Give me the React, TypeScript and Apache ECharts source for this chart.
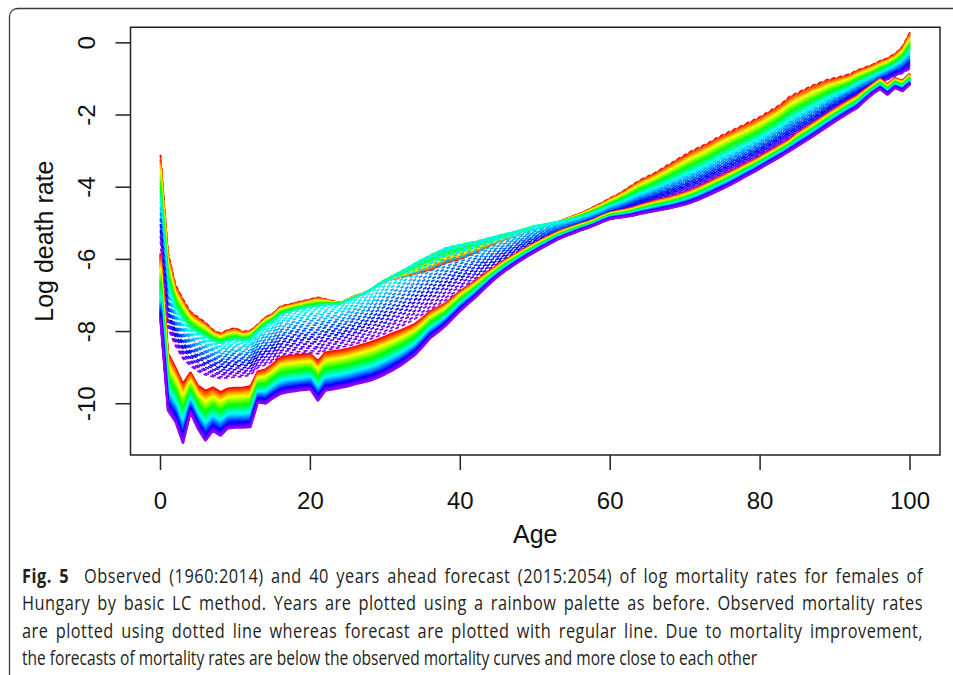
import React, { useEffect, useMemo, useRef } from "react";
import * as echarts from "echarts";

// ---------- data (log death rates) ----------
const ages = Array.from({ length: 101 }, (_, i) => i);
const obsYears = Array.from({ length: 55 }, (_, i) => 1960 + i);
const fcYears = Array.from({ length: 40 }, (_, i) => 2015 + i);

// observed 1960 (top red dashed curve)
const obs1960 = [
  -3.10, -5.80, -6.70, -7.10, -7.45, -7.60, -7.75, -7.95, -8.05, -7.95,
  -7.90, -8.00, -7.97, -7.80, -7.60, -7.50, -7.30, -7.25, -7.20, -7.15,
  -7.10, -7.05, -7.10, -7.15, -7.20, -7.10, -7.00, -6.95, -6.85, -6.70,
  -6.60, -6.55, -6.50, -6.45, -6.40, -6.35, -6.30, -6.20, -6.10, -6.05,
  -6.00, -5.90, -5.82, -5.72, -5.62, -5.52, -5.45, -5.38, -5.30, -5.22,
  -5.15, -5.10, -5.03, -4.96, -4.88, -4.80, -4.72, -4.63, -4.52, -4.42,
  -4.30, -4.20, -4.07, -3.93, -3.80, -3.70, -3.60, -3.47, -3.35, -3.22,
  -3.10, -2.98, -2.88, -2.78, -2.66, -2.55, -2.45, -2.35, -2.25, -2.15,
  -2.05, -1.92, -1.80, -1.66, -1.48, -1.38, -1.28, -1.18, -1.10, -1.02,
  -0.97, -0.92, -0.86, -0.75, -0.68, -0.60, -0.50, -0.42, -0.30, -0.10,
  0.30,
];

// observed 2014 (bottom purple dashed curve)
const obs2014 = [
  -5.50, -7.90, -8.40, -8.75, -8.95, -9.10, -9.20, -9.25, -9.30, -9.28,
  -9.26, -9.25, -9.20, -9.00, -8.92, -8.82, -8.70, -8.65, -8.62, -8.60,
  -8.58, -8.62, -8.52, -8.48, -8.44, -8.40, -8.34, -8.28, -8.21, -8.13,
  -8.05, -7.95, -7.86, -7.76, -7.64, -7.52, -7.38, -7.26, -7.13, -7.01,
  -6.90, -6.80, -6.70, -6.58, -6.45, -6.32, -6.18, -6.05, -5.93, -5.81,
  -5.70, -5.59, -5.48, -5.38, -5.29, -5.20, -5.12, -5.04, -4.96, -4.87,
  -4.78, -4.72, -4.66, -4.59, -4.52, -4.46, -4.39, -4.33, -4.27, -4.21,
  -4.14, -4.06, -3.97, -3.87, -3.77, -3.67, -3.57, -3.47, -3.36, -3.26,
  -3.15, -3.03, -2.91, -2.79, -2.67, -2.54, -2.41, -2.29, -2.15, -2.00,
  -1.86, -1.73, -1.60, -1.48, -1.36, -1.24, -1.12, -1.02, -0.92, -0.84,
  -0.72,
];

// excess of the early-1990s curves above the 1960 -> 2014 trend, by age
const obsHump = [
  0.00, 0.15, 0.20, 0.25, 0.28, 0.30, 0.32, 0.33, 0.34, 0.35,
  0.35, 0.36, 0.37, 0.40, 0.42, 0.44, 0.46, 0.48, 0.50, 0.51,
  0.52, 0.54, 0.55, 0.57, 0.59, 0.61, 0.63, 0.66, 0.69, 0.72,
  0.76, 0.80, 0.84, 0.88, 0.92, 0.95, 0.96, 0.95, 0.93, 0.90,
  0.86, 0.81, 0.76, 0.70, 0.64, 0.58, 0.52, 0.47, 0.43, 0.39,
  0.36, 0.31, 0.26, 0.21, 0.16, 0.12, 0.09, 0.07, 0.05, 0.04,
  0.03, 0.02, 0.01, 0.00, 0.00, 0.00, 0.00, 0.00, 0.00, 0.00,
  0.00, 0.00, 0.00, 0.00, 0.00, 0.00, 0.00, 0.00, 0.00, 0.00,
  0.00, 0.00, 0.00, 0.00, 0.00, 0.00, 0.00, 0.00, 0.00, 0.00,
  0.00, 0.00, 0.00, 0.00, 0.00, 0.00, 0.00, 0.00, 0.00, 0.00,
  0.00,
];

// period index of the observed years (1 = 1960 level, 0 = 2014 level)
const obsLevel = [
  1.00, 0.98, 0.97, 0.95, 0.94, 0.92, 0.91, 0.89, 0.88, 0.86,
  0.85, 0.83, 0.82, 0.80, 0.79, 0.77, 0.76, 0.74, 0.73, 0.71,
  0.70, 0.68, 0.67, 0.65, 0.64, 0.62, 0.61, 0.59, 0.58, 0.56,
  0.55, 0.53, 0.52, 0.50, 0.48, 0.46, 0.44, 0.42, 0.40, 0.37,
  0.35, 0.32, 0.30, 0.27, 0.25, 0.22, 0.20, 0.17, 0.15, 0.12,
  0.10, 0.07, 0.05, 0.02, 0.00,
];
// weight of the early-1990s excess for each observed year
const obsHumpWeight = [
  0.00, 0.03, 0.06, 0.09, 0.12, 0.15, 0.18, 0.21, 0.24, 0.27,
  0.30, 0.33, 0.36, 0.39, 0.42, 0.45, 0.48, 0.51, 0.54, 0.57,
  0.60, 0.63, 0.66, 0.69, 0.72, 0.75, 0.78, 0.81, 0.84, 0.87,
  0.90, 0.94, 0.97, 1.00, 0.98, 0.95, 0.90, 0.85, 0.80, 0.75,
  0.70, 0.65, 0.60, 0.55, 0.50, 0.45, 0.40, 0.35, 0.30, 0.25,
  0.20, 0.15, 0.10, 0.05, 0.00,
];

// forecast 2015 (jump-off, top of the solid band)
const fc2015 = [
  -5.83, -8.60, -9.00, -9.45, -9.13, -9.50, -9.64, -9.55, -9.68, -9.58,
  -9.56, -9.55, -9.52, -9.10, -9.05, -8.90, -8.72, -8.68, -8.66, -8.64,
  -8.62, -8.82, -8.58, -8.55, -8.52, -8.48, -8.42, -8.36, -8.30, -8.22,
  -8.14, -8.05, -7.97, -7.88, -7.78, -7.62, -7.44, -7.33, -7.22, -7.05,
  -6.88, -6.74, -6.60, -6.45, -6.30, -6.16, -6.02, -5.90, -5.78, -5.66,
  -5.55, -5.44, -5.34, -5.24, -5.16, -5.09, -5.02, -4.96, -4.88, -4.78,
  -4.70, -4.66, -4.62, -4.57, -4.50, -4.44, -4.38, -4.33, -4.28, -4.22,
  -4.15, -4.07, -3.98, -3.88, -3.78, -3.68, -3.58, -3.48, -3.37, -3.27,
  -3.16, -3.04, -2.92, -2.80, -2.68, -2.50, -2.37, -2.24, -2.10, -1.96,
  -1.83, -1.70, -1.58, -1.46, -1.30, -1.15, -1.00, -1.15, -0.98, -1.05,
  -0.85,
];
// forecast 2054 (bottom of the solid band)
const fc2054 = [
  -7.70, -10.19, -10.50, -11.10, -10.25, -10.70, -11.03, -10.75, -10.89, -10.68,
  -10.66, -10.66, -10.65, -9.96, -10.00, -9.85, -9.73, -9.68, -9.65, -9.62,
  -9.60, -9.92, -9.64, -9.60, -9.56, -9.52, -9.46, -9.41, -9.36, -9.28,
  -9.18, -9.07, -8.95, -8.80, -8.64, -8.42, -8.18, -8.02, -7.85, -7.64,
  -7.43, -7.24, -7.06, -6.86, -6.66, -6.48, -6.32, -6.18, -6.04, -5.91,
  -5.79, -5.67, -5.56, -5.45, -5.36, -5.28, -5.20, -5.13, -5.05, -4.96,
  -4.88, -4.85, -4.82, -4.79, -4.74, -4.70, -4.66, -4.62, -4.58, -4.53,
  -4.48, -4.41, -4.33, -4.24, -4.14, -4.04, -3.94, -3.83, -3.71, -3.60,
  -3.48, -3.36, -3.24, -3.12, -2.99, -2.86, -2.73, -2.60, -2.46, -2.32,
  -2.18, -2.05, -1.92, -1.80, -1.60, -1.42, -1.28, -1.44, -1.25, -1.34,
  -1.15,
];
// Lee-Carter drift index of the forecast years (0 = 2015, 1 = 2054)
const fcIndex = [
  0.000, 0.026, 0.051, 0.077, 0.103, 0.128, 0.154, 0.179, 0.205, 0.231,
  0.256, 0.282, 0.308, 0.333, 0.359, 0.385, 0.410, 0.436, 0.462, 0.487,
  0.513, 0.538, 0.564, 0.590, 0.615, 0.641, 0.667, 0.692, 0.718, 0.744,
  0.769, 0.795, 0.821, 0.846, 0.872, 0.897, 0.923, 0.949, 0.974, 1.000,
];

const xTicks = [0, 20, 40, 60, 80, 100];
const yTicks = [-10, -8, -6, -4, -2, 0];

const captionLabel = "Fig. 5";
const captionLines = [
  "Observed (1960:2014) and 40 years ahead forecast (2015:2054) of log mortality rates for females of",
  "Hungary by basic LC method. Years are plotted using a rainbow palette as before. Observed mortality rates",
  "are plotted using dotted line whereas forecast are plotted with regular line. Due to mortality improvement,",
  "the forecasts of mortality rates are below the observed mortality curves and more close to each other",
];

// ---------- styling helpers ----------
function hsvHex(h: number): string {
  const h6 = (h % 1) * 6;
  const i = Math.floor(h6);
  const f = h6 - i;
  const q = 1 - f;
  const t = f;
  let r = 0, g = 0, b = 0;
  switch (i) {
    case 0: r = 1; g = t; b = 0; break;
    case 1: r = q; g = 1; b = 0; break;
    case 2: r = 0; g = 1; b = t; break;
    case 3: r = 0; g = q; b = 1; break;
    case 4: r = t; g = 0; b = 1; break;
    default: r = 1; g = 0; b = q; break;
  }
  const c = (v: number) => Math.round(v * 255).toString(16).padStart(2, "0");
  return "#" + c(r) + c(g) + c(b);
}
function rainbow(n: number, end = 0.76): string[] {
  return Array.from({ length: n }, (_, i) => hsvHex((i / (n - 1)) * end));
}

const AXIS_FONT = "'Liberation Sans', Arial, Helvetica, sans-serif";
const CAP_FONT = "'Open Sans', 'Noto Sans', sans-serif";
const CAP_SIZE = 20;
const CAP_LEFT = 22;
const CAP_RIGHT = 923;
const CAP_LAST_RIGHT = 757;
const CAP_TOP = 562;
const CAP_LINE = 27.4;

// plot box = R's padded plotting region
const BOX = { left: 130.5, top: 27.3, width: 809.5, height: 427.7 };
const X_MIN = -4, X_MAX = 104, Y_MIN = -11.42, Y_MAX = 0.43;
const PX_PER_X = BOX.width / (X_MAX - X_MIN);
const PX_PER_Y = BOX.height / (Y_MAX - Y_MIN);
const TICK_LEN = 15;
const INK = "#222";

function measure(text: string, font: string): number {
  const cv = document.createElement("canvas");
  const ctx = cv.getContext("2d");
  if (!ctx) return text.length * 10;
  ctx.font = font;
  return ctx.measureText(text).width;
}

function Caption() {
  const layout = useMemo(() => {
    const norm = `${CAP_SIZE}px ${CAP_FONT}`;
    const bold = `bold ${CAP_SIZE}px ${CAP_FONT}`;
    const naturals = captionLines.map((l, i) =>
      i === 0 ? measure(captionLabel, bold) + measure("  " + l, norm) : measure(l, norm)
    );
    const s4 = (CAP_LAST_RIGHT - CAP_LEFT) / naturals[3];
    const full = CAP_RIGHT - CAP_LEFT;
    return captionLines.map((line, i) => {
      if (i === 3) return { sc: s4, w: naturals[i] + 20, justify: false, ls: 0 };
      const fill = full / naturals[i];
      const sc = Math.min(fill * 0.995, s4 * 1.05);
      const w = full / sc;
      const chars = (i === 0 ? captionLabel.length + 2 : 0) + line.length;
      const ls = Math.max(0, (0.55 * (w - naturals[i])) / chars);
      return { sc, w, justify: true, ls };
    });
  }, []);

  return (
    <div
      style={{
        position: "fixed",
        left: CAP_LEFT,
        top: CAP_TOP,
        fontFamily: CAP_FONT,
        fontSize: CAP_SIZE,
        color: "#231f20",
        lineHeight: `${CAP_LINE}px`,
      }}
    >
      {captionLines.map((line, i) => (
        <div
          key={i}
          style={{
            width: layout[i].w,
            height: CAP_LINE,
            transform: `scaleX(${layout[i].sc})`,
            transformOrigin: "0 0",
            letterSpacing: `${layout[i].ls}px`,
            textAlign: layout[i].justify ? "justify" : "left",
            textAlignLast: layout[i].justify ? "justify" : "left",
            whiteSpace: "nowrap",
          } as any}
        >
          {i === 0 ? (
            <>
              <b>{captionLabel}</b>
              {"\u00a0 " + line}
            </>
          ) : (
            line
          )}
        </div>
      ))}
    </div>
  );
}

export default function App() {
  const ref = useRef<HTMLDivElement>(null);

  useEffect(() => {
    if (!ref.current) return;
    const chart = echarts.init(ref.current, null, { renderer: "svg" });

    const obsColors = rainbow(obsYears.length);
    const fcColors = rainbow(fcYears.length);

    const series: any[] = [];
    obsYears.forEach((yr, j) => {
      series.push({
        type: "line",
        name: "obs" + yr,
        data: ages.map((a, x) => [
          a,
          +(obs2014[x] + (obs1960[x] - obs2014[x]) * obsLevel[j] + obsHump[x] * obsHumpWeight[j]).toFixed(3),
        ]),
        symbol: "none",
        showSymbol: false,
        silent: true,
        z: 2,
        lineStyle: { color: obsColors[j], width: 1.7, type: [4, 3], dashOffset: (j * 2.6) % 7 },
      });
    });
    fcYears.forEach((yr, j) => {
      series.push({
        type: "line",
        name: "fc" + yr,
        data: ages.map((a, x) => [a, +(fc2015[x] + (fc2054[x] - fc2015[x]) * fcIndex[j]).toFixed(3)]),
        symbol: "none",
        showSymbol: false,
        silent: true,
        z: 3,
        lineStyle: { color: fcColors[j], width: 2.2, type: "solid" },
      });
    });

    // outward R-style tick marks at the axis tick values (same linear map as the axes)
    const tickRects: any[] = [];
    xTicks.forEach((v, i) => {
      const px = BOX.left + (v - X_MIN) * PX_PER_X;
      tickRects.push({
        type: "rect",
        id: "xtick" + i,
        silent: true,
        z: 30,
        shape: { x: px - 0.75, y: BOX.top + BOX.height, width: 1.5, height: TICK_LEN },
        style: { fill: INK },
      });
    });
    yTicks.forEach((v, i) => {
      const py = BOX.top + (Y_MAX - v) * PX_PER_Y;
      tickRects.push({
        type: "rect",
        id: "ytick" + i,
        silent: true,
        z: 30,
        shape: { x: BOX.left - TICK_LEN, y: py - 0.75, width: TICK_LEN, height: 1.5 },
        style: { fill: INK },
      });
    });

    const option: any = {
      animation: false,
      backgroundColor: "#ffffff",
      grid: {
        left: BOX.left,
        top: BOX.top,
        width: BOX.width,
        height: BOX.height,
        show: true,
        borderColor: INK,
        borderWidth: 1.5,
        backgroundColor: "transparent",
        containLabel: false,
      },
      xAxis: {
        type: "value",
        position: "bottom",
        min: X_MIN,
        max: X_MAX,
        axisLine: { show: false, onZero: false },
        splitLine: { show: false },
        axisTick: { show: false },
        axisLabel: { customValues: xTicks, margin: 33, fontSize: 24, fontFamily: AXIS_FONT, color: "#111" },
        name: "Age",
        nameLocation: "middle",
        nameGap: 66,
        nameTextStyle: { fontSize: 25, fontFamily: AXIS_FONT, color: "#111" },
      },
      yAxis: {
        type: "value",
        position: "left",
        min: Y_MIN,
        max: Y_MAX,
        axisLine: { show: false, onZero: false },
        splitLine: { show: false },
        axisTick: { show: false },
        axisLabel: { customValues: yTicks, rotate: 90, margin: 32, fontSize: 24, fontFamily: AXIS_FONT, color: "#111" },
        name: "Log death rate",
        nameLocation: "middle",
        nameRotate: 90,
        nameGap: 74,
        nameTextStyle: { fontSize: 25, fontFamily: AXIS_FONT, color: "#111" },
      },
      series,
      graphic: [
        {
          type: "rect",
          id: "figframe",
          silent: true,
          shape: { x: 9.5, y: 8.5, width: 980, height: 720, r: 8 },
          style: { fill: "none", stroke: "#3a3a3a", lineWidth: 1.3 },
          z: -1,
        },
        ...tickRects,
      ],
    };

    chart.setOption(option);
    return () => chart.dispose();
  }, []);

  return (
    <>
      <div
        ref={ref}
        style={{ position: "fixed", left: 0, top: 0, width: 953, height: 675, background: "#fff" }}
      />
      <Caption />
    </>
  );
}
